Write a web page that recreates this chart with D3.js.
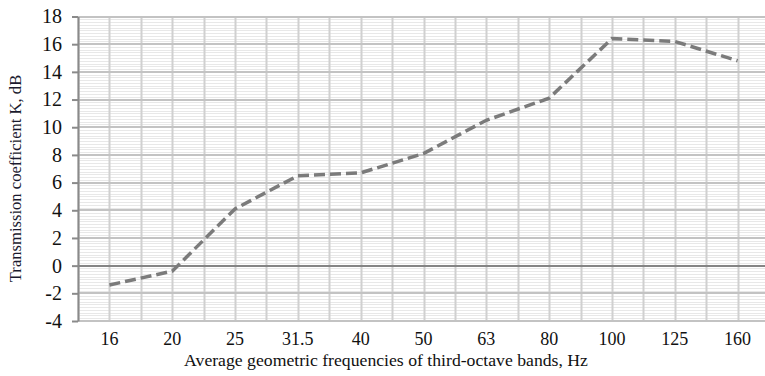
<!DOCTYPE html>
<html>
<head>
<meta charset="utf-8">
<script src="https://cdn.jsdelivr.net/npm/d3@7"></script>
<style>
  body { margin: 0; background: #fff; }
  svg { display: block; }
  text { font-family: "Liberation Serif", serif; }
</style>
</head>
<body>
<svg id="chart" width="765" height="376"></svg>
<script>
// third-octave band centres and measured K, dB
const bands = ["16", "20", "25", "31.5", "40", "50", "63", "80", "100", "125", "160"];
const kValues = [-1.4, -0.4, 4.1, 6.5, 6.7, 8.1, 10.5, 12.1, 16.4, 16.2, 14.8];
const yTicks = [-4, -2, 0, 2, 4, 6, 8, 10, 12, 14, 16, 18];

const svg = d3.select("#chart");
const plotLeft = 78, plotRight = 769, plotTop = 16.5, plotBottom = 321;

const x = d3.scaleBand().domain(bands).range([plotLeft, plotRight]);
const y = d3.scaleLinear().domain([-4, 18]).range([plotBottom, plotTop]);

// minor horizontal gridlines (every 0.2)
const minor = d3.range(-4, 18.001, 0.2).map(v => +v.toFixed(1));
svg.append("g")
  .selectAll("line")
  .data(minor)
  .join("line")
  .attr("x1", plotLeft).attr("x2", plotRight)
  .attr("y1", d => Math.round(y(d)) + 0.5)
  .attr("y2", d => Math.round(y(d)) + 0.5)
  .attr("stroke", "#e8e8e8")
  .attr("stroke-width", 1);

// vertical gridlines: band edges and centres
const vx = [];
bands.forEach(b => { vx.push(x(b)); vx.push(x(b) + x.bandwidth() / 2); });
svg.append("g")
  .selectAll("line")
  .data(vx)
  .join("line")
  .attr("x1", d => Math.round(d) + 0.5).attr("x2", d => Math.round(d) + 0.5)
  .attr("y1", plotTop).attr("y2", plotBottom)
  .attr("stroke", "#d0d0d0")
  .attr("stroke-width", 2);

// major horizontal gridlines
svg.append("g")
  .selectAll("line")
  .data(yTicks.filter(d => d !== 0))
  .join("line")
  .attr("x1", plotLeft).attr("x2", plotRight)
  .attr("y1", d => Math.round(y(d)))
  .attr("y2", d => Math.round(y(d)))
  .attr("stroke", "#c3c3c3")
  .attr("stroke-width", 2);

// zero line
svg.append("line")
  .attr("x1", plotLeft).attr("x2", plotRight)
  .attr("y1", Math.round(y(0))).attr("y2", Math.round(y(0)))
  .attr("stroke", "#858585")
  .attr("stroke-width", 2);

// y axis
const yAxis = svg.append("g")
  .attr("transform", `translate(${plotLeft},0)`)
  .call(d3.axisLeft(y).tickValues(yTicks).tickFormat(d => String(d))
    .tickSize(6).tickPadding(10).tickSizeOuter(0));
yAxis.attr("font-family", null).attr("font-size", null);
yAxis.select(".domain").attr("stroke", "#8a8a8a").attr("stroke-width", 2);
yAxis.selectAll(".tick line").attr("stroke", "#8a8a8a").attr("stroke-width", 2);
yAxis.selectAll("text")
  .attr("fill", "#111")
  .style("font-size", "20px");

// x tick labels
svg.append("g")
  .selectAll("text")
  .data(bands)
  .join("text")
  .attr("x", d => x(d) + x.bandwidth() / 2)
  .attr("y", 345)
  .attr("text-anchor", "middle")
  .attr("fill", "#111")
  .style("font-size", "18px")
  .text(d => d);

// line
const line = d3.line()
  .x((d, i) => x(bands[i]) + x.bandwidth() / 2)
  .y(d => y(d));

svg.append("path")
  .datum(kValues)
  .attr("d", line)
  .attr("fill", "none")
  .attr("stroke", "#7b7b7b")
  .attr("stroke-width", 3.5)
  .attr("stroke-dasharray", "11,5");

// axis titles
svg.append("text")
  .attr("x", 386)
  .attr("y", 366)
  .attr("text-anchor", "middle")
  .attr("fill", "#111")
  .style("font-size", "17.7px")
  .text("Average geometric frequencies of third-octave bands, Hz");

svg.append("text")
  .attr("transform", "translate(21,178.5) rotate(-90)")
  .attr("text-anchor", "middle")
  .attr("fill", "#1a1a2e")
  .style("font-size", "16.6px")
  .text("Transmission coefficient K, dB");
</script>
</body>
</html>
